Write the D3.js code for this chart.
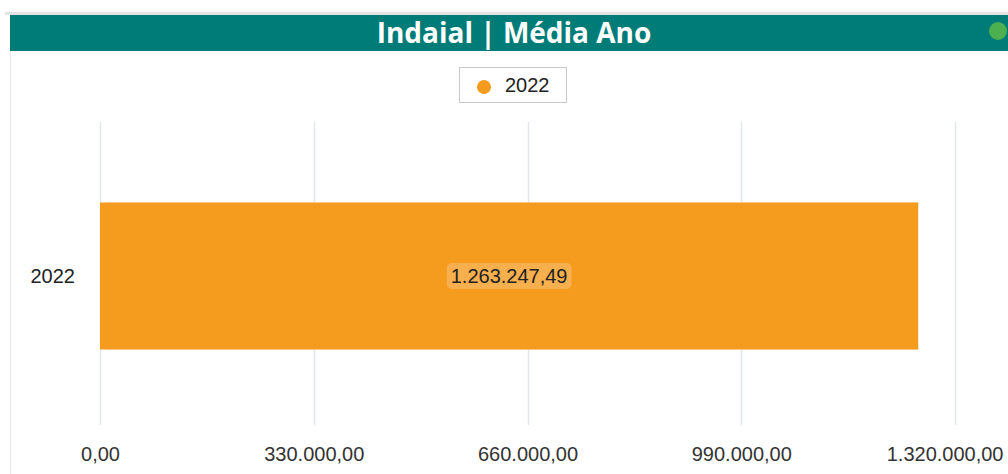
<!DOCTYPE html>
<html>
<head>
<meta charset="utf-8">
<script src="https://cdn.jsdelivr.net/npm/d3@7"></script>
<style>
  body { margin: 0; background: #fff; }
  svg { display: block; }
</style>
</head>
<body>
<svg id="chart"></svg>
<script>
// data
var categories = ["2022"];
var values = [1263247.49];
var seriesName = "2022";
var tickValues = [0, 330000, 660000, 990000, 1320000];
var title = "Indaial | Média Ano";

var width = 1008, height = 474;
var orange = "#F59B1D", teal = "#007C78";
var font = "'Liberation Sans', Arial, sans-serif";

var svg = d3.select("#chart")
  .attr("width", width)
  .attr("height", height);

// panel frame
svg.append("rect")
  .attr("x", 5).attr("y", 12).attr("width", width).attr("height", 3)
  .attr("fill", "#e3e3e3");
svg.append("line")
  .attr("x1", 10.5).attr("x2", 10.5).attr("y1", 15).attr("y2", height)
  .attr("stroke", "#e6e6e6");

// header
svg.append("rect")
  .attr("x", 10).attr("y", 15).attr("width", width - 10).attr("height", 36)
  .attr("fill", teal);
svg.append("text")
  .attr("x", 514).attr("y", 43)
  .attr("text-anchor", "middle")
  .attr("fill", "#fff")
  .style("font-family", "'Open Sans', sans-serif")
  .style("font-weight", 700)
  .style("font-size", "28px")
  .text(title);
svg.append("circle")
  .attr("cx", 998).attr("cy", 31).attr("r", 9)
  .attr("fill", "#4CAF50");

// legend
var legend = svg.append("g").attr("transform", "translate(459,67)");
legend.append("rect")
  .attr("x", 0.5).attr("y", 0.5).attr("width", 107).attr("height", 35)
  .attr("fill", "#fff").attr("stroke", "#c8c8c8");
legend.append("circle")
  .attr("cx", 25).attr("cy", 20).attr("r", 7)
  .attr("fill", orange);
legend.append("text")
  .attr("x", 46).attr("y", 25)
  .style("font-family", font)
  .style("font-size", "20px")
  .attr("fill", "#222")
  .text(seriesName);

// plot
var margin = {left: 100, right: 53, top: 122, bottom: 49};

var x = d3.scaleLinear()
  .domain([0, 1320000])
  .range([margin.left, width - margin.right]);

var y = d3.scaleBand()
  .domain(categories)
  .range([126, 426])
  .paddingInner(0)
  .paddingOuter(0.52);

var fmt = function(v) {
  return v.toLocaleString("de-DE", {minimumFractionDigits: 2, maximumFractionDigits: 2});
};

// gridlines
svg.append("g")
  .selectAll("line")
  .data(tickValues)
  .enter().append("line")
  .attr("x1", function(d){ return Math.round(x(d)) + 0.5; })
  .attr("x2", function(d){ return Math.round(x(d)) + 0.5; })
  .attr("y1", margin.top)
  .attr("y2", height - margin.bottom)
  .attr("stroke", "#e4e6ee")
  .attr("stroke-width", 1.5);

// x axis labels
var xAxis = d3.axisBottom(x)
  .tickValues(tickValues)
  .tickFormat(fmt)
  .tickSize(0)
  .tickPadding(0);

var gx = svg.append("g")
  .attr("transform", "translate(0,461)")
  .call(xAxis);
gx.select(".domain").remove();
gx.selectAll("text")
  .attr("dy", 0)
  .attr("fill", "#333")
  .style("font-family", font)
  .style("font-size", "20px");

// keep the last label inside the panel, like the original does
gx.selectAll(".tick").each(function(d) {
  var t = d3.select(this).select("text");
  var w = t.node().getComputedTextLength();
  var overflow = x(d) + w / 2 - (width - 5);
  if (overflow > 0) t.attr("x", -overflow);
});

// y axis labels
var yAxis = d3.axisLeft(y).tickSize(0).tickPadding(0);
var gy = svg.append("g")
  .attr("transform", "translate(75,0)")
  .call(yAxis);
gy.select(".domain").remove();
gy.selectAll("text")
  .attr("dy", "0.35em")
  .attr("fill", "#222")
  .style("font-family", font)
  .style("font-size", "20px");

// bars
var bars = svg.append("g")
  .selectAll("g")
  .data(values)
  .enter().append("g");

bars.append("rect")
  .attr("x", x(0))
  .attr("y", function(d, i){ return y(categories[i]); })
  .attr("width", function(d){ return x(d) - x(0); })
  .attr("height", y.bandwidth())
  .attr("fill", orange);

// value labels with pill background
bars.each(function(d, i) {
  var g = d3.select(this);
  var cx = (x(0) + x(d)) / 2;
  var cy = y(categories[i]) + y.bandwidth() / 2;
  var t = g.append("text")
    .attr("x", cx).attr("y", cy)
    .attr("dy", "0.35em")
    .attr("text-anchor", "middle")
    .attr("fill", "#222")
    .style("font-family", font)
    .style("font-size", "20px")
    .text(fmt(d));
  var bb = t.node().getBBox();
  g.insert("rect", "text")
    .attr("x", bb.x - 4).attr("y", cy - 13)
    .attr("width", bb.width + 8).attr("height", 26)
    .attr("rx", 5)
    .attr("fill", "#F8B04E");
});
</script>
</body>
</html>
